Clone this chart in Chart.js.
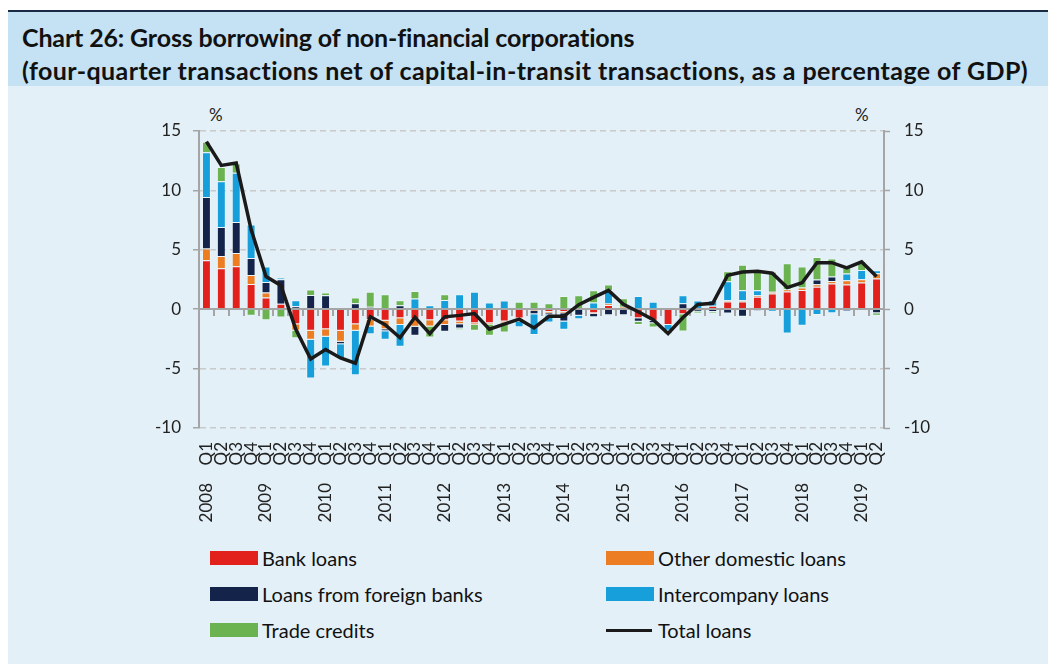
<!DOCTYPE html>
<html>
<head>
<meta charset="utf-8">
<script src="https://cdn.jsdelivr.net/npm/chart.js@4"></script>
<style>
  body { margin: 0; background: #fff; font-family: Lato, sans-serif; }
  #panel { position: absolute; left: 8px; top: 10px; width: 1040px; height: 654px; background: #e3f0f7; }
  #head { position: absolute; left: 8px; top: 10px; width: 1040px; height: 74px; background: #c4e2f3; border-top: 2px solid #1c2b45; }
  .title { position: absolute; left: 22px; font-weight: bold; font-size: 25px; line-height: 30px; color: #111; white-space: nowrap; }
  .pct { position: absolute; top: 104px; font-size: 17px; color: #222; }
  #chart { position: absolute; left: 0; top: 86px; }
  .lg { position: absolute; font-size: 20px; line-height: 24px; color: #111; white-space: nowrap; }
  .sw { position: absolute; width: 48px; height: 14px; }
</style>
</head>
<body>
<div id="panel"></div>
<div id="head"></div>
<div class="title" style="top:22px;letter-spacing:-0.15px">Chart 26: Gross borrowing of non-financial corporations</div>
<div class="title" style="top:55px;letter-spacing:0.42px">(four-quarter transactions net of capital-in-transit transactions, as a percentage of GDP)</div>
<div class="pct" style="left:209px">%</div>
<div class="pct" style="left:855px">%</div>
<canvas id="chart" width="1056" height="450"></canvas>
<div id="legend"></div>
<script>
// quarters, 2008 Q1 - 2019 Q2
const categories = [
  '2008 Q1','2008 Q2','2008 Q3','2008 Q4','2009 Q1','2009 Q2','2009 Q3','2009 Q4',
  '2010 Q1','2010 Q2','2010 Q3','2010 Q4','2011 Q1','2011 Q2','2011 Q3','2011 Q4',
  '2012 Q1','2012 Q2','2012 Q3','2012 Q4','2013 Q1','2013 Q2','2013 Q3','2013 Q4',
  '2014 Q1','2014 Q2','2014 Q3','2014 Q4','2015 Q1','2015 Q2','2015 Q3','2015 Q4',
  '2016 Q1','2016 Q2','2016 Q3','2016 Q4','2017 Q1','2017 Q2','2017 Q3','2017 Q4',
  '2018 Q1','2018 Q2','2018 Q3','2018 Q4','2019 Q1','2019 Q2'
];

const bankLoans = [
  4.12, 3.45, 3.61, 2.13, 0.98, 0.45, -1.26, -1.82,
  -1.68, -1.82, -1.26, -0.90, -0.98, -0.76, -0.84, -0.92,
  -0.92, -1.04, -1.18, -1.18, -1.04, -0.78, 0, -0.22,
  -0.22, 0, -0.34, 0.36, 0.08, -0.76, -0.98, -1.34,
  -0.42, 0, 0.28, 0.64, 0.64, 1.04, 1.32, 1.48,
  1.62, 1.88, 2.16, 2.07, 2.24, 2.58
];
const otherDomestic = [
  0.98, 1.03, 1.12, 0.75, 0.42, 0, -0.56, -0.76,
  -0.64, -0.93, -0.56, -0.56, -0.70, -0.56, -0.64, -0.54,
  -0.42, -0.22, -0.16, -0.11, -0.14, -0.05, -0.14, -0.12,
  -0.12, 0, -0.06, 0.12, 0.12, 0, 0, 0,
  0, 0, 0, 0.12, 0.12, 0.14, 0.14, 0.20,
  0.20, 0.22, 0.22, 0.37, 0.28, 0.45
];
const foreignBanks = [
  4.34, 2.44, 2.61, 1.43, 0.90, 2.07, 0.25, 1.20,
  1.18, -0.19, 0.50, 0.20, -0.17, 0.34, -0.76, 0,
  -0.56, -0.36, 0, 0, 0, -0.20, -0.28, -0.16,
  -0.70, -0.56, -0.28, -0.50, -0.50, -0.30, -0.20, 0,
  0.50, -0.20, -0.22, -0.36, -0.64, -0.10, 0, 0,
  0, 0.39, 0.37, -0.14, 0, -0.34
];
const intercompany = [
  3.78, 3.86, 4.14, 2.83, 1.29, 0.11, 0.51, -3.25,
  -2.50, -1.21, -3.73, -0.64, -0.73, -1.85, 0.90, 0.34,
  0.78, 1.26, 1.46, 0.56, 0.73, -0.48, -1.76, -0.62,
  -0.70, -0.28, 0.56, 1.14, 0, 1.12, 0.62, -0.48,
  0.68, 0.73, 0.50, 1.60, 0.84, 0.42, -0.20, -2.04,
  -1.40, -0.48, -0.34, 0.56, 0.78, 0.25
];
const tradeCredits = [
  0.87, 1.20, 0.79, -0.56, -0.92, -0.70, -0.62, 0.45,
  0.22, 0, 0.48, 1.26, 1.26, 0.42, 0.64, -0.92,
  0.48, -0.12, -0.48, -0.95, -0.78, 0.62, 0.62, 0.50,
  1.12, 1.18, 1.04, 0.45, 0.72, -0.28, -0.36, -0.28,
  -1.46, -0.16, -0.12, 0.84, 2.15, 1.60, 1.71, 2.19,
  1.77, 1.90, 1.51, 0.50, 0.76, -0.22
];
const totalLoans = [
  14.1, 12.1, 12.3, 6.7, 2.75, 2.0, -1.7, -4.2,
  -3.4, -4.1, -4.55, -0.64, -1.3, -2.4, -0.67, -2.05,
  -0.64, -0.52, -0.36, -1.68, -1.25, -0.84, -1.58, -0.6,
  -0.6, 0.38, 1.0, 1.58, 0.42, -0.22, -0.88, -2.05,
  -0.7, 0.4, 0.5, 2.86, 3.13, 3.2, 3.03, 1.82,
  2.23, 3.92, 3.92, 3.48, 3.98, 2.76
];
const yTicks = [-10, -5, 0, 5, 10, 15];

const seriesNames = ['Bank loans', 'Other domestic loans', 'Loans from foreign banks',
                     'Intercompany loans', 'Trade credits', 'Total loans'];
const colors = ['#e3211c', '#ec7d22', '#13234a', '#169fdb', '#6ab350', '#1a1a1a'];

const barSets = [bankLoans, otherDomestic, foreignBanks, intercompany, tradeCredits].map((d, i) => ({
  type: 'bar',
  label: seriesNames[i],
  data: d,
  backgroundColor: colors[i],
  borderColor: 'rgba(255,255,255,0.35)',
  borderWidth: 1,
  categoryPercentage: 1,
  barPercentage: 0.6,
  order: 1
}));

// zero line with small ticks at the category boundaries, under the total line
const zeroAxis = {
  id: 'zeroAxis',
  beforeDatasetDraw(chart, args) {
    if (args.index !== 5) return;
    const { ctx, chartArea: a, scales } = chart;
    const y0 = Math.round(scales.y.getPixelForValue(0));
    const step = (a.right - a.left) / categories.length;
    ctx.save();
    ctx.strokeStyle = '#a5a5a5';
    ctx.lineWidth = 2;
    ctx.beginPath();
    ctx.moveTo(a.left, y0);
    ctx.lineTo(a.right, y0);
    for (let i = 1; i < categories.length; i++) {
      const px = Math.round(a.left + i * step);
      ctx.moveTo(px, y0);
      ctx.lineTo(px, y0 + 7);
    }
    ctx.stroke();
    ctx.restore();
  }
};

const tickFont = { family: 'Lato', size: 17 };

new Chart(document.getElementById('chart'), {
  data: {
    labels: categories,
    datasets: [...barSets, {
      type: 'line',
      label: seriesNames[5],
      data: totalLoans,
      borderColor: colors[5],
      borderWidth: 3.5,
      pointRadius: 0,
      tension: 0,
      stack: 'total',
      order: 0
    }]
  },
  options: {
    responsive: false,
    animation: false,
    devicePixelRatio: 1,
    layout: { padding: { top: 45, left: 0, right: 0, bottom: 0 } },
    plugins: { legend: { display: false }, tooltip: { enabled: false } },
    scales: {
      x: {
        stacked: true,
        grid: { display: false },
        border: { display: false },
        ticks: {
          autoSkip: false, minRotation: 90, maxRotation: 90, padding: 6,
          color: '#222', font: tickFont,
          callback: (v, i) => categories[i].slice(5)
        },
        afterFit: s => { s.height = 45; }
      },
      x2: {
        type: 'category',
        position: 'bottom',
        offset: true,
        grid: { display: false },
        border: { display: false },
        ticks: {
          autoSkip: false, minRotation: 90, maxRotation: 90, padding: 2,
          color: '#222', font: tickFont,
          callback: (v, i) => categories[i].endsWith('Q1') ? categories[i].slice(0, 4) : ''
        },
        afterFit: s => { s.height = 63; }
      },
      y: {
        stacked: true,
        min: yTicks[0], max: yTicks[yTicks.length - 1],
        ticks: { stepSize: 5, padding: 12, color: '#222', font: tickFont },
        grid: { color: '#c7c9cb', lineWidth: 1.5, tickColor: '#a5a5a5', tickLength: 6, tickWidth: 1.5 },
        border: { display: true, color: '#a5a5a5', width: 2, dash: [6, 4] },
        afterFit: s => { s.width = 199; }
      },
      y2: {
        position: 'right',
        min: yTicks[0], max: yTicks[yTicks.length - 1],
        ticks: { stepSize: 5, padding: 14, color: '#222', font: tickFont },
        grid: { drawOnChartArea: false, color: '#a5a5a5', tickLength: 6, tickWidth: 1.5 },
        border: { display: true, color: '#a5a5a5', width: 2 },
        afterFit: s => { s.width = 172; }
      }
    }
  },
  plugins: [zeroAxis]
});

// legend, two columns
const legendPos = [[210, 558], [606, 558], [210, 594], [606, 594], [210, 630], [606, 630]];
const legend = document.getElementById('legend');
seriesNames.forEach((name, i) => {
  const [lx, ly] = legendPos[i];
  const sw = document.createElement('div');
  sw.className = 'sw';
  if (i === 5) {
    sw.style.cssText = `left:${lx}px;top:${ly - 1}px;width:46px;height:3px;background:${colors[i]}`;
  } else {
    sw.style.cssText = `left:${lx}px;top:${ly - 7}px;background:${colors[i]}`;
  }
  legend.appendChild(sw);
  const t = document.createElement('div');
  t.className = 'lg';
  t.style.left = (lx + 52) + 'px';
  t.style.top = (ly - 12) + 'px';
  t.textContent = name;
  legend.appendChild(t);
});
</script>
</body>
</html>
